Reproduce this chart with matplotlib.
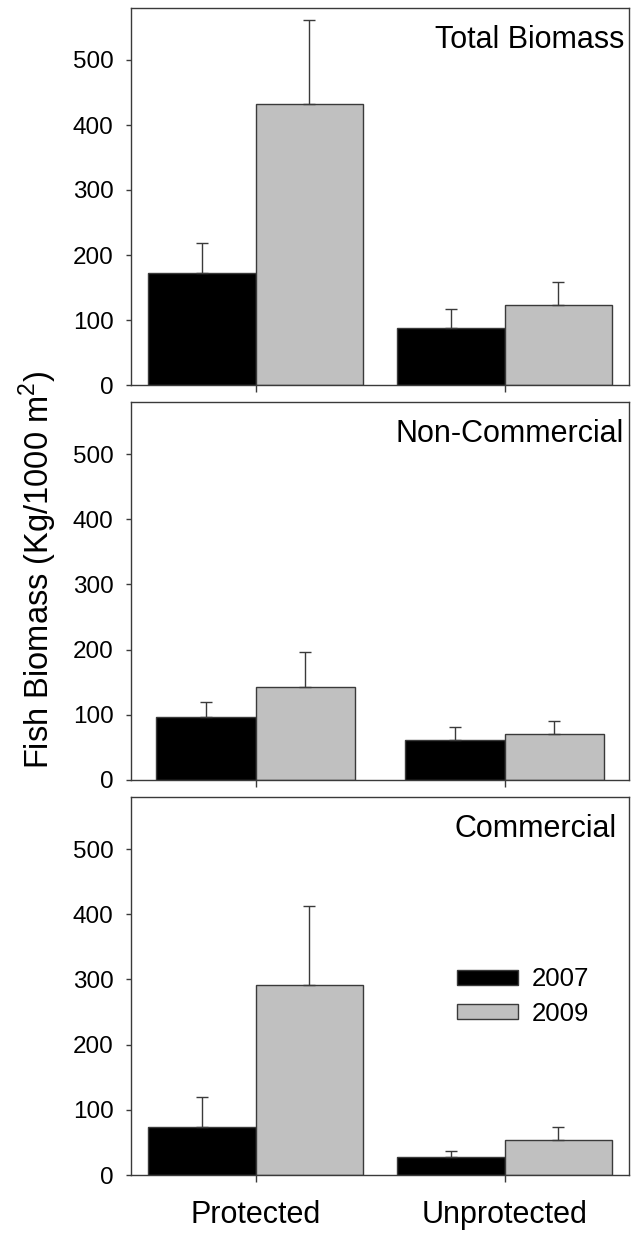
import matplotlib
matplotlib.use("Agg")
import matplotlib.pyplot as plt
import numpy as np

plt.rcParams['font.family'] = ['Liberation Sans', 'DejaVu Sans']
plt.rcParams['mathtext.fontset'] = 'custom'
plt.rcParams['mathtext.rm'] = 'Liberation Sans'

sites = ['Protected', 'Unprotected']
years = ['2007', '2009']
panels = ['Total Biomass', 'Non-Commercial', 'Commercial']

# means and upper SE per panel, [Protected, Unprotected]
mean_2007 = [[172, 88], [97, 61], [74, 28]]
mean_2009 = [[432, 123], [142, 71], [291, 53]]
err_2007 = [[47, 29], [22, 21], [45, 9]]
err_2009 = [[130, 35], [54, 19], [121, 20]]

bar_widths = [0.43, 0.40, 0.43]
colors = ['black', '#c0c0c0']
edge = '#3a3a3a'

fig = plt.figure(figsize=(6.31, 12.36), dpi=100)
W, H = 631, 1236
left, right = 131, 629
tops = [8, 402, 797]
bottoms = [385, 780, 1175]

x = np.arange(len(sites))
axes = []
for i, name in enumerate(panels):
    ax = fig.add_axes([left / W, 1 - bottoms[i] / H, (right - left) / W,
                       (bottoms[i] - tops[i]) / H])
    axes.append(ax)
    w = bar_widths[i]
    for j, (vals, errs) in enumerate([(mean_2007[i], err_2007[i]),
                                      (mean_2009[i], err_2009[i])]):
        pos = x - w / 2 if j == 0 else x + w / 2
        ax.bar(pos, vals, width=w, color=colors[j], edgecolor=edge,
               linewidth=1.0, label=years[j], zorder=2)
        ax.errorbar(pos, vals, yerr=[np.zeros(len(errs)), errs], fmt='none',
                    ecolor=edge, elinewidth=1.0, capsize=4.5, capthick=1.0,
                    zorder=3)
    ax.set_xlim(-0.5, 1.5)
    ax.set_ylim(0, 580)
    ax.set_yticks([0, 100, 200, 300, 400, 500])
    ax.set_xticks(x)
    ax.tick_params(axis='y', direction='out', length=3.6, width=1.0,
                   colors=edge, labelcolor='black', labelsize=17.5, pad=9)
    ax.tick_params(axis='x', direction='out', length=5, width=1.0,
                   colors=edge, labelcolor='black', labelsize=22, pad=13)
    for sp in ax.spines.values():
        sp.set_color(edge)
        sp.set_linewidth(1.0)
    if i < 2:
        ax.set_xticklabels([])
    else:
        ax.set_xticklabels(sites)
    tx = 0.99 if i < 2 else 0.975
    ax.text(tx, 0.955, name, transform=ax.transAxes, ha='right', va='top',
            fontsize=22)

leg = axes[2].legend(loc='center left', bbox_to_anchor=(0.655, 0.472),
                     frameon=False, fontsize=18.5, handlelength=2.37,
                     handleheight=0.5, handletextpad=0.55, labelspacing=0.4,
                     borderpad=0, borderaxespad=0)

fig.text(38 / W, 1 - 570 / H, r'Fish Biomass (Kg/1000 m$^{2}$)', rotation=90,
         ha='center', va='center', fontsize=23.5)

fig.savefig('out.png', dpi=100)
